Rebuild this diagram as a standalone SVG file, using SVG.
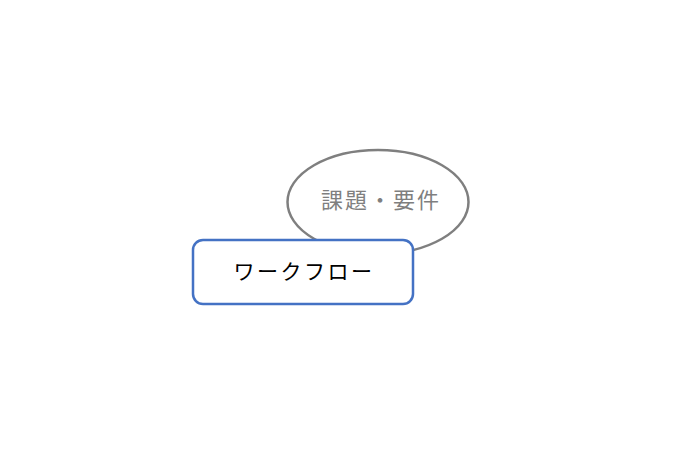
<svg xmlns="http://www.w3.org/2000/svg" width="680" height="460" viewBox="0 0 680 460">
<style>
.lbl{font-family:"Noto Sans CJK JP","Noto Sans",sans-serif;text-anchor:middle}
</style>
<rect width="680" height="460" fill="#ffffff"/>
<g id="connectors"></g>
<g id="node-kadai">
<ellipse cx="378" cy="202" rx="90.5" ry="52" fill="#ffffff" stroke="#7f7f7f" stroke-width="2.5"/>
<text class="lbl" x="381" y="208" fill="#7f7f7f" font-size="22" letter-spacing="2">課題・要件</text>
</g>
<g id="node-workflow">
<rect x="193" y="240" width="220" height="64" rx="10" ry="10" fill="#ffffff" stroke="#4472c4" stroke-width="2.5"/>
<text class="lbl" x="304" y="279" fill="#000000" font-size="21" letter-spacing="2.5">ワークフロー</text>
</g>
</svg>
